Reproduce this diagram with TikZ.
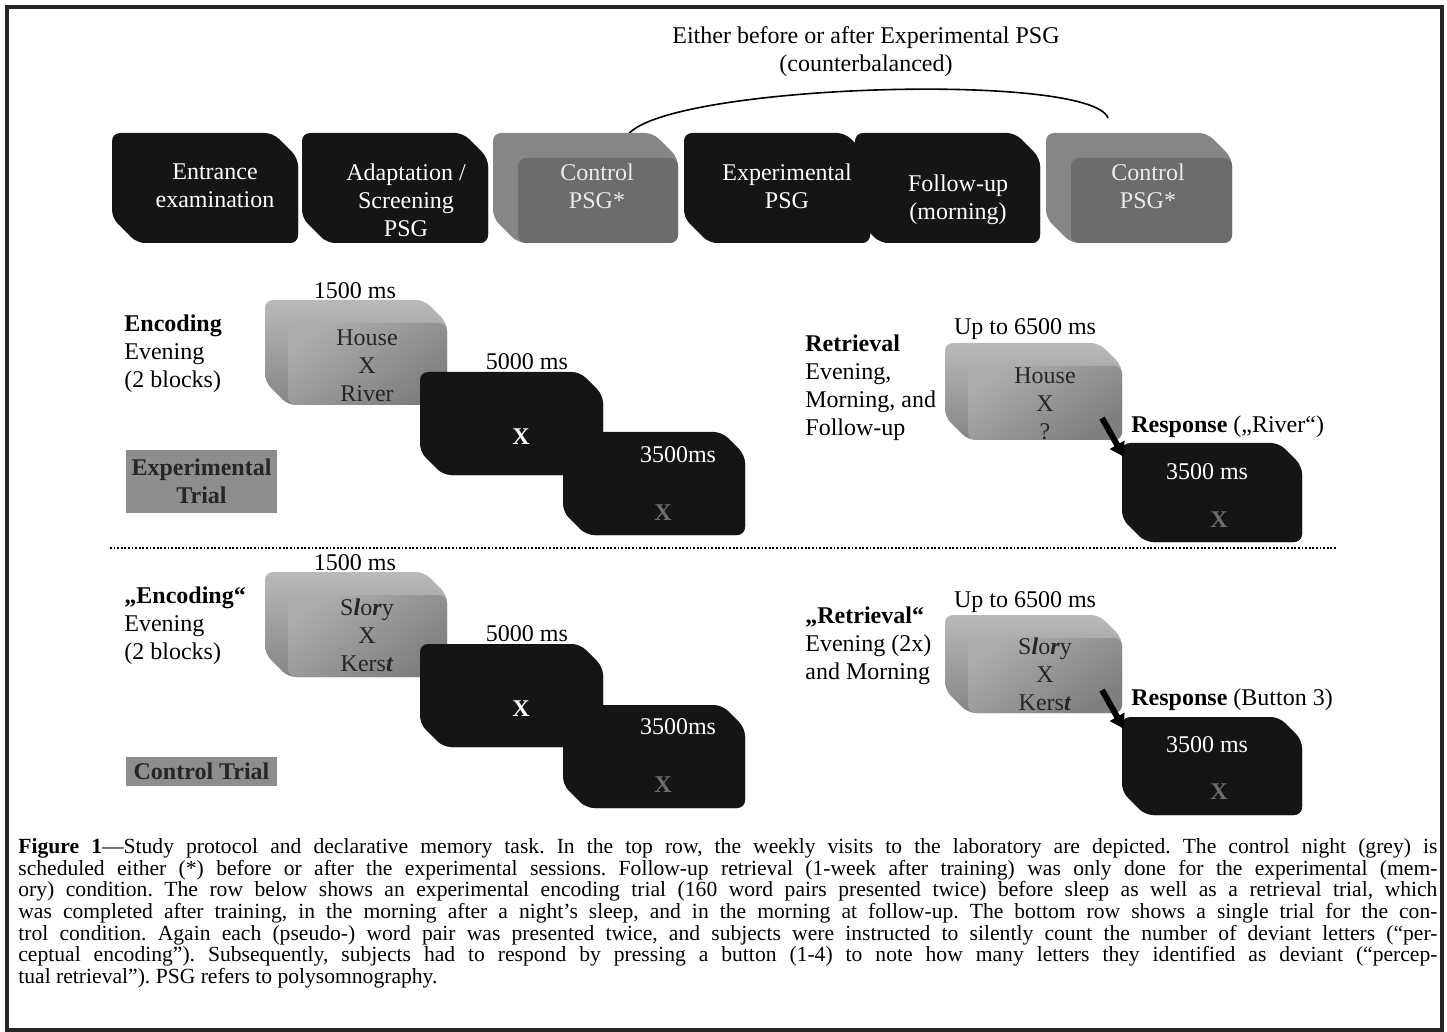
\documentclass[tikz,border=0pt]{standalone}
\usepackage{fontspec}
\setmainfont{Liberation Serif}
\usetikzlibrary{arrows.meta}
\definecolor{nightblack}{HTML}{151515}
\definecolor{ctrlside}{HTML}{868686}
\definecolor{ctrlface}{HTML}{6C6C6C}
\definecolor{ctrltext}{HTML}{EBEBEB}
\definecolor{trialtop}{HTML}{B9B9B9}
\definecolor{trialbot}{HTML}{858585}
\definecolor{faceA}{HTML}{ADADAD}
\definecolor{faceB}{HTML}{7E7E7E}
\definecolor{tagfill}{HTML}{8D8D8D}
\definecolor{xgray}{HTML}{6E6E6E}
\newcommand{\bevelbox}[8]{%
  \path[#7, rounded corners=4pt] (#2,#3) -- (#4-#6,#3) -- (#4,#3+#6) -- (#4,#5) -- (#2+#6,#5) -- (#2,#5-#6) -- cycle;
  \path[#8, rounded corners=4pt] (#2+#6,#3+#6) rectangle (#4,#5);
  \coordinate (#1) at ({(#2+#6+#4)/2},{(#3+#6+#5)/2});}

\begin{document}
\begin{tikzpicture}[x=0.5pt,y=-0.5pt,
  every node/.style={font=\fontsize{12}{14}\selectfont},
  night/.style={fill=nightblack},
  ctrlback/.style={fill=ctrlside},
  ctrlfront/.style={fill=ctrlface},
  trialback/.style={top color=trialtop, bottom color=trialbot},
  trialfront/.style={top color=faceA, bottom color=faceB, shading angle=35},
  nighttxt/.style={text=white, align=center},
  ctrltxt/.style={text=ctrltext, align=center},
  trialtxt/.style={text=black!85, align=center},
  whitex/.style={text=white, font=\fontsize{12}{14}\selectfont\bfseries},
  grayx/.style={text=xgray, font=\fontsize{12}{14}\selectfont\bfseries},
  sidelbl/.style={anchor=west, align=left, inner sep=0pt},
  trialtag/.style={fill=tagfill, minimum width=75.5pt, inner sep=0pt, align=center, text=black!85, font=\fontsize{12}{14}\selectfont\bfseries},
  resparrow/.style={line width=3pt, -{Triangle[length=7pt,width=8pt]}},
  caption/.style={anchor=north west, inner sep=0pt, text width=709.5pt, align=justify, font=\fontsize{10.8}{10.85}\selectfont}]
\useasboundingbox (0,0) rectangle (1447,1032);
\draw[line width=1.6pt, draw=black!85] (7,7) rectangle (1442,1030);

\node[align=center] (ordertxt) at (866,52) {Either before or after Experimental PSG\\(counterbalanced)};
\coordinate (arcL) at (625,140);
\coordinate (arcR) at (1108,118);
\draw[line width=0.8pt] (arcL) .. controls (640,85) and (1090,70) .. (arcR);

\bevelbox{entr}{112}{133}{298}{243}{25}{night}{night}
\bevelbox{adapt}{302}{133}{488}{243}{25}{night}{night}
\bevelbox{ctrlA}{493}{133}{678}{243}{25}{ctrlback}{ctrlfront}
\bevelbox{expn}{684}{133}{870}{243}{25}{night}{night}
\bevelbox{follow}{855}{133}{1040}{243}{25}{night}{night}
\bevelbox{ctrlB}{1046}{133}{1232}{243}{25}{ctrlback}{ctrlfront}
\node[nighttxt] (entrtxt) at (215,186) {Entrance\\examination};
\node[nighttxt] (adapttxt) at (406,200) {Adaptation /\\Screening\\PSG};
\node[ctrltxt] (ctrlAtxt) at (597,186) {Control\\PSG*};
\node[nighttxt] (expntxt) at (787,186) {Experimental\\PSG};
\node[nighttxt] (followtxt) at (958,200) {Follow-up\\(morning)};
\node[ctrltxt] (ctrlBtxt) at (1148,186) {Control\\PSG*};

\node[sidelbl] (enclbl) at (124,353.5) {\textbf{Encoding}\\Evening\\(2 blocks)};
\node[trialtag, minimum height=31.5pt] (exptag) at (201.5,481.5) {Experimental\\Trial};
\node (encms) at (355,291) {1500 ms};
\bevelbox{encword}{265}{300}{447}{405}{23}{trialback}{trialfront}
\node[trialtxt] (encwordtxt) at (367,366) {House\\X\\River};
\node (fixms) at (527,362) {5000 ms};
\bevelbox{encfix}{420}{372}{603}{475}{23}{night}{night}
\node[whitex] (encfixx) at (521,437) {X};
\bevelbox{encrest}{563}{432}{745}{535}{23}{night}{night}
\node[text=white] (encrestms) at (678,455) {3500ms};
\node[grayx] (encrestx) at (663,513) {X};

\node[sidelbl] (retlbl) at (805,388) {\textbf{Retrieval}\\Evening,\\Morning, and\\Follow-up};
\node (retms) at (1025,329) {Up to 6500 ms};
\bevelbox{retword}{945}{343}{1122}{440}{23}{trialback}{trialfront}
\node[trialtxt] (retwordtxt) at (1045,404) {House\\X\\?};
\bevelbox{retresp}{1122}{443}{1302}{542}{23}{night}{night}
\node[text=white] (retrespms) at (1207,472) {3500 ms};
\node[grayx] (retrespx) at (1219,520) {X};
\coordinate (retA) at (1102,418);
\coordinate (retB) at (1124,457);
\draw[resparrow] (retA) -- (retB);
\node[anchor=west, inner sep=0pt] (retresplbl) at (1131,427) {\textbf{Response} („River“)};

\coordinate (divL) at (110,548);
\coordinate (divR) at (1337,548);
\draw[line width=0.9pt, dash pattern=on 0.9pt off 0.9pt] (divL) -- (divR);

\node[sidelbl] (cenclbl) at (124,626) {\textbf{„Encoding“}\\Evening\\(2 blocks)};
\node[trialtag, minimum height=14.5pt] (ctrltag) at (201.5,771.5) {Control Trial};
\node (cencms) at (355,563) {1500 ms};
\bevelbox{cencword}{265}{572}{447}{677}{23}{trialback}{trialfront}
\node[trialtxt] (cencwordtxt) at (367,635) {S\textbf{\textit{l}}o\textbf{\textit{r}}y\\X\\Kers\textbf{\textit{t}}};
\node (cfixms) at (527,634) {5000 ms};
\bevelbox{cencfix}{420}{644}{603}{747}{23}{night}{night}
\node[whitex] (cencfixx) at (521,709) {X};
\bevelbox{cencrest}{563}{705}{745}{808}{23}{night}{night}
\node[text=white] (cencrestms) at (678,727) {3500ms};
\node[grayx] (cencrestx) at (663,785) {X};

\node[sidelbl] (cretlbl) at (805,646) {\textbf{„Retrieval“}\\Evening (2x)\\and Morning};
\node (cretms) at (1025,602) {Up to 6500 ms};
\bevelbox{cretword}{945}{615}{1122}{713}{23}{trialback}{trialfront}
\node[trialtxt] (cretwordtxt) at (1045,674) {S\textbf{\textit{l}}o\textbf{\textit{r}}y\\X\\Kers\textbf{\textit{t}}};
\bevelbox{cretresp}{1122}{717}{1302}{815}{23}{night}{night}
\node[text=white] (cretrespms) at (1207,745) {3500 ms};
\node[grayx] (cretrespx) at (1219,792) {X};
\coordinate (cretA) at (1102,690);
\coordinate (cretB) at (1124,729);
\draw[resparrow] (cretA) -- (cretB);
\node[anchor=west, inner sep=0pt] (cretresplbl) at (1131,700) {\textbf{Response} (Button 3)};

\node[caption] (figcap) at (18,838) {\frenchspacing\hyphenpenalty=10000 \tolerance=9999 \textbf{Figure 1}—Study protocol and declarative memory task. In the top row, the weekly visits to the laboratory are depicted. The control night (grey) is\linebreak
scheduled either (*) before or after the experimental sessions. Follow-up retrieval (1-week after training) was only done for the experimental (mem-\linebreak
ory) condition. The row below shows an experimental encoding trial (160 word pairs presented twice) before sleep as well as a retrieval trial, which\linebreak
was completed after training, in the morning after a night’s sleep, and in the morning at follow-up. The bottom row shows a single trial for the con-\linebreak
trol condition. Again each (pseudo-) word pair was presented twice, and subjects were instructed to silently count the number of deviant letters (“per-\linebreak
ceptual encoding”). Subsequently, subjects had to respond by pressing a button (1-4) to note how many letters they identified as deviant (“percep-\linebreak
tual retrieval”). PSG refers to polysomnography.};
\end{tikzpicture}
\end{document}
